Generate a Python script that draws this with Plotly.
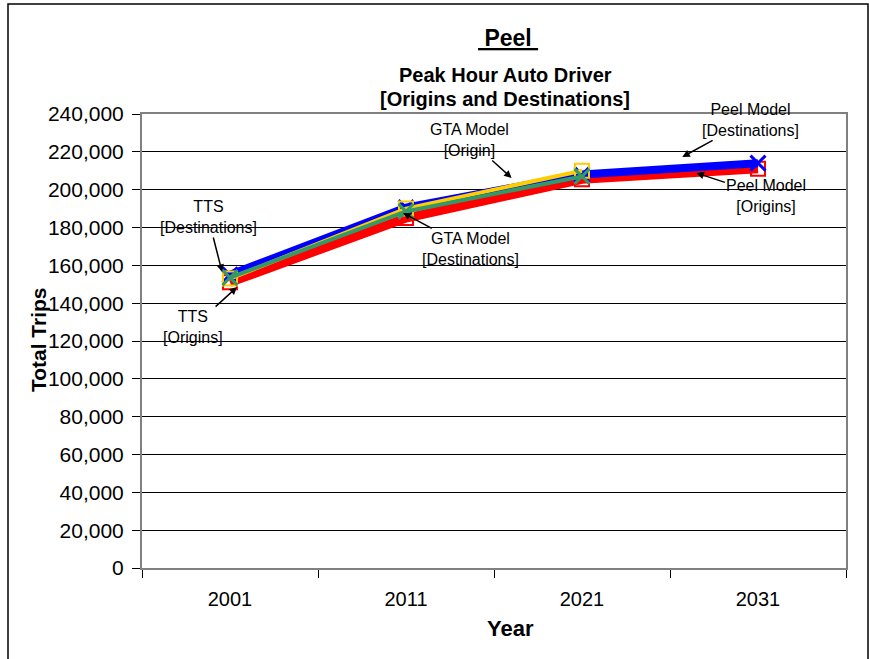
import plotly.graph_objects as go

years = ["2001", "2011", "2021", "2031"]
gta_years = ["2001", "2011", "2021"]
origins = [151000, 185000, 205500, 211000]
destinations = [155000, 190500, 208000, 214000]
gta_origin = [153000, 190000, 210000]
gta_destinations = [153500, 188500, 207000]
y_ticks = list(range(0, 240001, 20000))

FONT = "Liberation Sans, Arial, sans-serif"

fig = go.Figure()
fig.add_trace(go.Scatter(x=years, y=origins, mode="lines+markers",
    line=dict(color="#FF0000", width=9),
    marker=dict(symbol="square-open", size=14, color="#FF0000", line=dict(width=2, color="#FF0000"))))
fig.add_trace(go.Scatter(x=years, y=destinations, mode="lines+markers",
    line=dict(color="#0000FF", width=8),
    marker=dict(symbol="x-thin", size=15, color="#0000FF", line=dict(width=3, color="#0000FF"))))
fig.add_trace(go.Scatter(x=gta_years, y=gta_origin, mode="lines+markers",
    line=dict(color="#FFCC00", width=4),
    marker=dict(symbol="square-open", size=14, color="#FFCC00", line=dict(width=2, color="#FFCC00"))))
fig.add_trace(go.Scatter(x=gta_years, y=gta_destinations, mode="lines+markers",
    line=dict(color="#339966", width=4),
    marker=dict(symbol="x-thin", size=15, color="#339966", line=dict(width=3, color="#339966"))))

arrow_notes = [
    ("TTS<br>[Destinations]", -0.045, 156500, -14, -55),
    ("TTS<br>[Origins]", 0.04, 148500, -44, 40),
    ("GTA Model<br>[Destinations]", 0.983, 187700, 67, 36),
    ("GTA Model<br>[Origin]", 1.60, 206200, -42, -38),
    ("Peel Model<br>[Destinations]", 2.57, 217300, 68, -37),
    ("Peel Model<br>[Origins]", 2.65, 208800, 70, 23),
]
annotations = []
for text, x, y, ax, ay in arrow_notes:
    annotations.append(dict(x=x, y=y, xref="x", yref="y", text=text, showarrow=True,
        ax=ax, ay=ay, arrowhead=2, arrowsize=1, arrowwidth=1.5, arrowcolor="black",
        font=dict(family=FONT, size=16, color="black"), align="center"))

annotations += [
    dict(text="<b><u> Peel </u></b>", x=0.52, y=1.1674, xref="paper", yref="paper",
         showarrow=False, font=dict(family=FONT, size=23, color="black"), xanchor="center", yanchor="middle"),
    dict(text="<b>Peak Hour Auto Driver</b>", x=0.516, y=1.0859, xref="paper", yref="paper",
         showarrow=False, font=dict(family=FONT, size=20, color="black"), xanchor="center", yanchor="middle"),
    dict(text="<b>[Origins and Destinations]</b>", x=0.516, y=1.033, xref="paper", yref="paper",
         showarrow=False, font=dict(family=FONT, size=20, color="black"), xanchor="center", yanchor="middle"),
    dict(text="<b>Year</b>", x=0.523, y=-0.134, xref="paper", yref="paper",
         showarrow=False, font=dict(family=FONT, size=22, color="black"), xanchor="center", yanchor="middle"),
    dict(text="<b>Total Trips</b>", x=-0.1477, y=0.502, xref="paper", yref="paper", textangle=-90,
         showarrow=False, font=dict(family=FONT, size=21, color="black"), xanchor="center", yanchor="middle"),
]

shapes = [
    dict(type="rect", xref="paper", yref="paper",
         x0=(8 - 142) / 704, x1=(868 - 142) / 704, y0=-0.3, y1=1 + (114 - 4) / 454,
         line=dict(color="black", width=1.5), fillcolor="rgba(0,0,0,0)", layer="below"),
]

fig.update_layout(
    width=869, height=659,
    margin=dict(l=142, r=23, t=114, b=91),
    paper_bgcolor="white", plot_bgcolor="white",
    showlegend=False,
    font=dict(family=FONT, color="black"),
    annotations=annotations,
    shapes=shapes,
)
fig.update_xaxes(type="category", range=[-0.5, 3.5], tickson="boundaries",
    ticks="outside", ticklen=8, tickcolor="black", showgrid=False,
    showline=True, linecolor="#808080", linewidth=2, mirror=True,
    tickfont=dict(family=FONT, size=20, color="black"), ticklabelstandoff=12)
fig.update_yaxes(range=[0, 240000], tickvals=y_ticks, tickformat=",d",
    ticks="outside", ticklen=8, tickcolor="black",
    showgrid=True, gridcolor="black", gridwidth=1,
    showline=True, linecolor="#808080", linewidth=2, mirror=True, zeroline=False,
    tickfont=dict(family=FONT, size=21, color="black"), ticklabelstandoff=4)

fig.write_html("out.html")
